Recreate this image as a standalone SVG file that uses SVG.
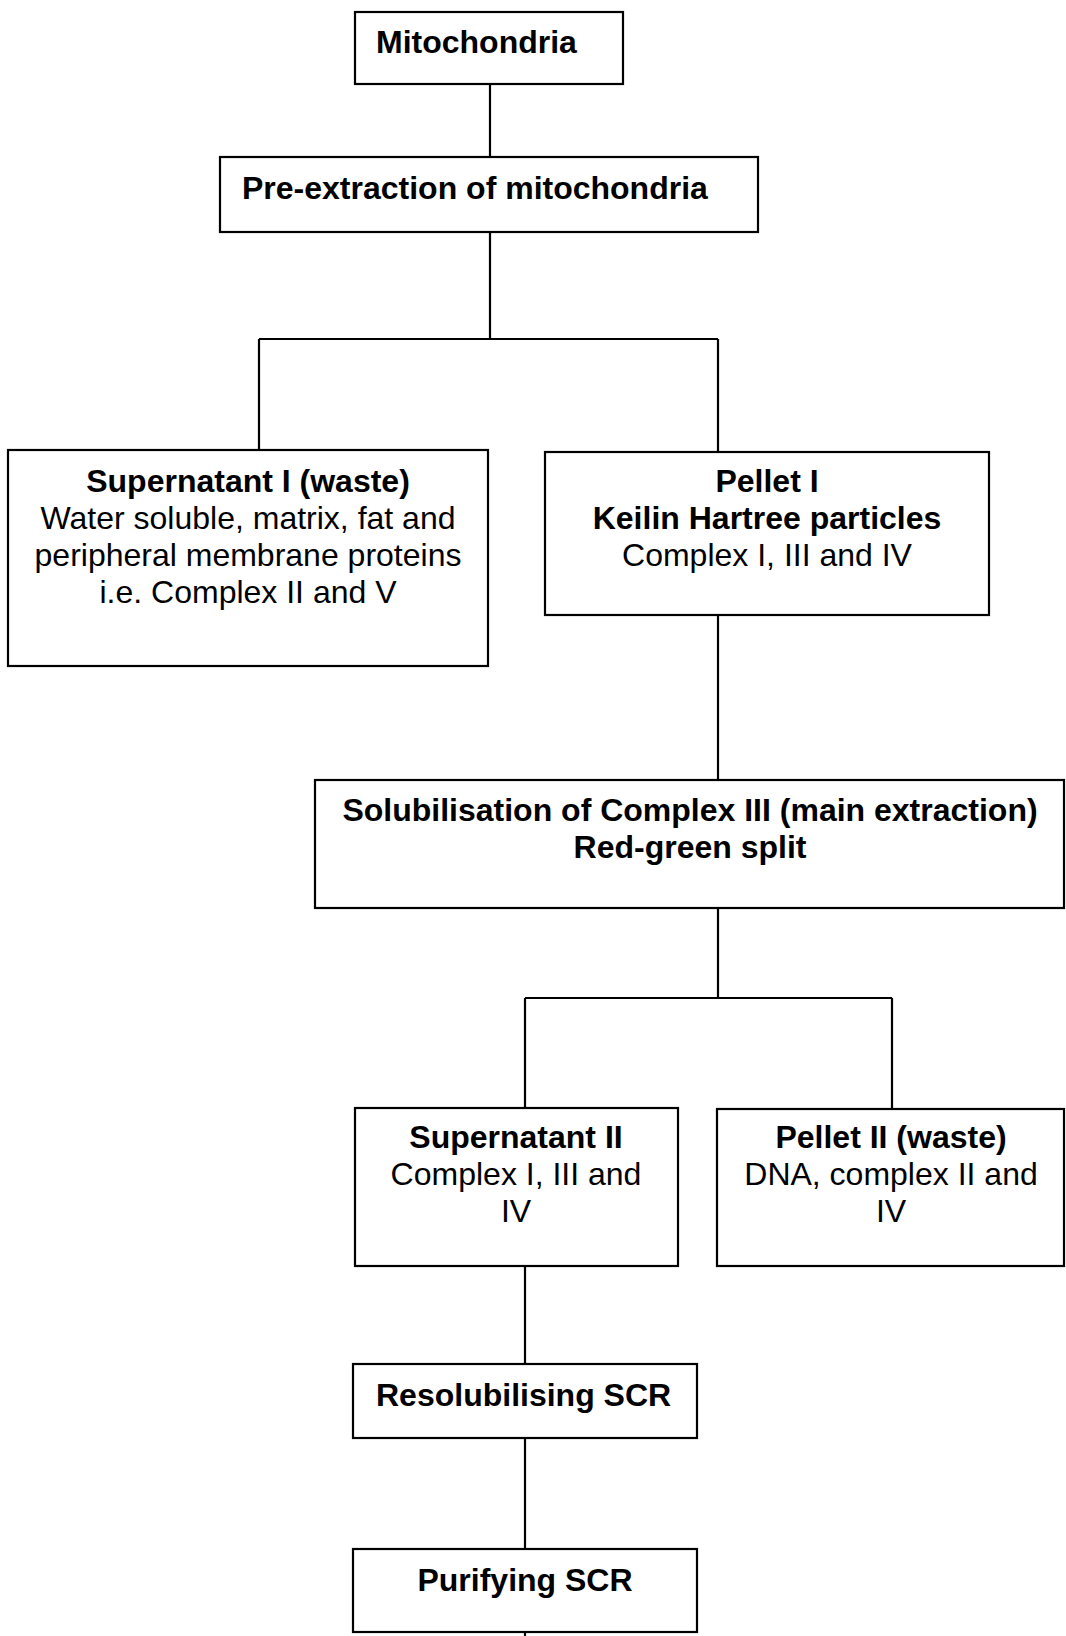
<svg xmlns="http://www.w3.org/2000/svg" width="1066" height="1636" viewBox="0 0 1066 1636">
  <style>
    .box { fill: #fff; stroke: #000; stroke-width: 2.2; }
    .link { fill: none; stroke: #000; stroke-width: 2.2; }
    text { font-family: "Liberation Sans", Arial, sans-serif; font-size: 32px; fill: #000; }
    .b { font-weight: bold; }
    .c { text-anchor: middle; }
  </style>
  <rect width="1066" height="1636" fill="#fff"/>

  <!-- connectors -->
  <g id="connectors">
    <path class="link" d="M490,84 V157"/>
    <path class="link" d="M490,232 V339 M259,339 H718 M259,339 V450 M718,339 V452"/>
    <path class="link" d="M718,615 V780"/>
    <path class="link" d="M718,908 V998 M525,998 H892 M525,998 V1108 M892,998 V1109"/>
    <path class="link" d="M525,1266 V1364"/>
    <path class="link" d="M525,1438 V1549"/>
    <path class="link" d="M525,1632 V1636"/>
  </g>

  <g id="mitochondria">
    <rect class="box" x="355" y="12" width="268" height="72"/>
    <text class="b" x="376" y="53">Mitochondria</text>
  </g>

  <g id="pre-extraction">
    <rect class="box" x="220" y="157" width="538" height="75"/>
    <text class="b" x="242" y="199">Pre-extraction of mitochondria</text>
  </g>

  <g id="supernatant-1">
    <rect class="box" x="8" y="450" width="480" height="216"/>
    <text class="c" x="248" y="492"><tspan class="b">Supernatant I (waste)</tspan><tspan x="248" dy="37">Water soluble, matrix, fat and</tspan><tspan x="248" dy="37">peripheral membrane proteins</tspan><tspan x="248" dy="37">i.e. Complex II and V</tspan></text>
  </g>

  <g id="pellet-1">
    <rect class="box" x="545" y="452" width="444" height="163"/>
    <text class="c" x="767" y="492"><tspan class="b">Pellet I</tspan><tspan class="b" x="767" dy="37">Keilin Hartree particles</tspan><tspan x="767" dy="37">Complex I, III and IV</tspan></text>
  </g>

  <g id="solubilisation">
    <rect class="box" x="315" y="780" width="749" height="128"/>
    <text class="c b" x="690" y="821"><tspan>Solubilisation of Complex III (main extraction)</tspan><tspan x="690" dy="37">Red-green split</tspan></text>
  </g>

  <g id="supernatant-2">
    <rect class="box" x="355" y="1108" width="323" height="158"/>
    <text class="c" x="516" y="1148"><tspan class="b">Supernatant II</tspan><tspan x="516" dy="37">Complex I, III and</tspan><tspan x="516" dy="37">IV</tspan></text>
  </g>

  <g id="pellet-2">
    <rect class="box" x="717" y="1109" width="347" height="157"/>
    <text class="c" x="891" y="1148"><tspan class="b">Pellet II (waste)</tspan><tspan x="891" dy="37">DNA, complex II and</tspan><tspan x="891" dy="37">IV</tspan></text>
  </g>

  <g id="resolubilising">
    <rect class="box" x="353" y="1364" width="344" height="74"/>
    <text class="b" x="376" y="1406">Resolubilising SCR</text>
  </g>

  <g id="purifying">
    <rect class="box" x="353" y="1549" width="344" height="83"/>
    <text class="c b" x="525" y="1591">Purifying SCR</text>
  </g>
</svg>
